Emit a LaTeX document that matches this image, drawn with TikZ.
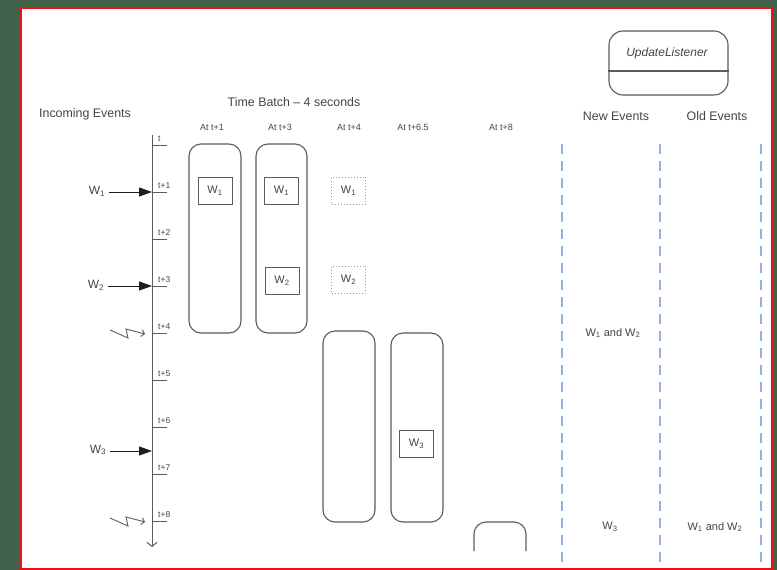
\documentclass[tikz,border=0pt]{standalone}
\usepackage{fontspec}
\setmainfont{Liberation Sans}
\usetikzlibrary{arrows.meta,positioning}
\definecolor{backGreen}{HTML}{41614A}
\definecolor{frameRed}{HTML}{EE1111}
\definecolor{lineGray}{HTML}{5C5C5C}
\definecolor{arrowBlack}{HTML}{1E1E1E}
\definecolor{textGray}{HTML}{454545}
\definecolor{dotGray}{HTML}{9A9A9A}
\definecolor{dashBlue}{HTML}{94B4DE}
\tikzset{
  batchBox/.style={draw=lineGray,line width=1.1pt,rounded corners=12pt,inner sep=0pt,minimum width=52pt},
  eventBox/.style={draw=lineGray,line width=1pt,inner sep=0pt,minimum width=34pt,minimum height=27pt,text=textGray,font=\fontsize{11}{12}\selectfont},
  ghostBox/.style={eventBox,draw=dotGray,dotted},
  tickLabel/.style={text=textGray,font=\fontsize{8.5}{9}\selectfont,inner sep=1pt},
  atLabel/.style={text=textGray,font=\fontsize{9}{10}\selectfont},
  headLabel/.style={text=textGray,font=\fontsize{12.4}{14}\selectfont},
  wLabel/.style={text=textGray,font=\fontsize{12}{13}\selectfont},
  colLabel/.style={text=textGray,font=\fontsize{11}{12}\selectfont},
  colLine/.style={dashBlue,line width=1.2pt,dash pattern=on 10pt off 7pt},
}

\begin{document}
\begin{tikzpicture}[x=1pt,y=-1pt]
\fill[backGreen] (0,0) rectangle (777,570);
\filldraw[fill=white,draw=frameRed,line width=2pt] (21,8) rectangle (772,569);

% time axis
\coordinate (axisTop) at (152,135);
\coordinate (axisEnd) at (152,547);
\draw[lineGray,line width=1pt,-{Straight Barb[length=4pt,width=10pt]}] (axisTop) -- (axisEnd);
\foreach \k/\lab in {0/t,1/t+1,2/t+2,3/t+3,4/t+4,5/t+5,6/t+6,7/t+7,8/t+8}{
  \coordinate (tick\k) at (152,145+47*\k);
  \draw[lineGray,line width=1pt] (tick\k) -- ++(15,0);
  \node[tickLabel,anchor=south west] (tickLab\k) at ([shift={(5,-2)}]tick\k) {\lab};
}

% incoming events
\coordinate (evt3) at (152,451);
\node[wLabel] (w1) at (97,191) {W\textsubscript{1}};
\node[wLabel] (w2) at (96,285) {W\textsubscript{2}};
\node[wLabel] (w3) at (98,450) {W\textsubscript{3}};
\foreach \n/\t in {w1/tick1,w2/tick3,w3/evt3}
  \draw[arrowBlack,line width=1pt,-{Triangle[length=13pt,width=9pt]}] (\n.east |- \t) -- (\t);
\foreach \k in {4,8}
  \draw[lineGray,line width=0.9pt,-{Straight Barb[length=3pt,width=7pt]}] ([shift={(-42,-3)}]tick\k) -- ++(18,8) -- ++(-2,-9) -- ++(19,5);

% batches
\node[headLabel] (incoming) at (85,114) {Incoming Events};
\node[headLabel] (batchTitle) at (294,102) {Time Batch -- 4 seconds};
\foreach \x/\lab [count=\i] in {212/At t+1,280/At t+3,349/At t+4,413/At t+6.5,501/At t+8}
  \node[atLabel] (at\i) at (\x,127) {\lab};
\node[batchBox,minimum height=189pt] (batchA) at (215,238.5) {};
\node[batchBox,minimum width=51pt,minimum height=189pt] (batchB) at (281.5,238.5) {};
\node[batchBox,minimum height=191pt] (batchC) at (349,426.5) {};
\node[batchBox,minimum height=189pt] (batchD) at (417,427.5) {};
\draw[batchBox] (474,551) -- (474,522) -- (526,522) -- (526,551);

\node[eventBox] (aW1) at (215,190.5) {W\textsubscript{1}};
\node[eventBox] (bW1) at (281.5,190.5) {W\textsubscript{1}};
\node[eventBox] (bW2) at (282,281) {W\textsubscript{2}};
\node[ghostBox] (cW1) at (348.5,190.5) {W\textsubscript{1}};
\node[ghostBox] (cW2) at (348.5,279.5) {W\textsubscript{2}};
\node[eventBox] (dW3) at (416.5,444) {W\textsubscript{3}};

% listener
\node[batchBox,rounded corners=14pt,minimum width=119pt,minimum height=64pt] (listener) at (668.5,63) {};
\draw[lineGray,line width=1.1pt] ([yshift=-8pt]listener.west) -- ([yshift=-8pt]listener.east);
\node[text=textGray,font=\fontsize{12}{14}\selectfont\itshape] (listenerName) at (667,53) {UpdateListener};
\node[headLabel] (newEvents) at (616,116) {New Events};
\node[headLabel] (oldEvents) at (717,116) {Old Events};
\foreach \x in {562,660,761} \draw[colLine] (\x,144) -- (\x,567);
\node[colLabel] (newAt4) at (613,333) {W\textsubscript{1} and W\textsubscript{2}};
\node[colLabel] (newAt8) at (610,527) {W\textsubscript{3}};
\node[colLabel] (oldAt8) at (715,527) {W\textsubscript{1} and W\textsubscript{2}};
\end{tikzpicture}
\end{document}
